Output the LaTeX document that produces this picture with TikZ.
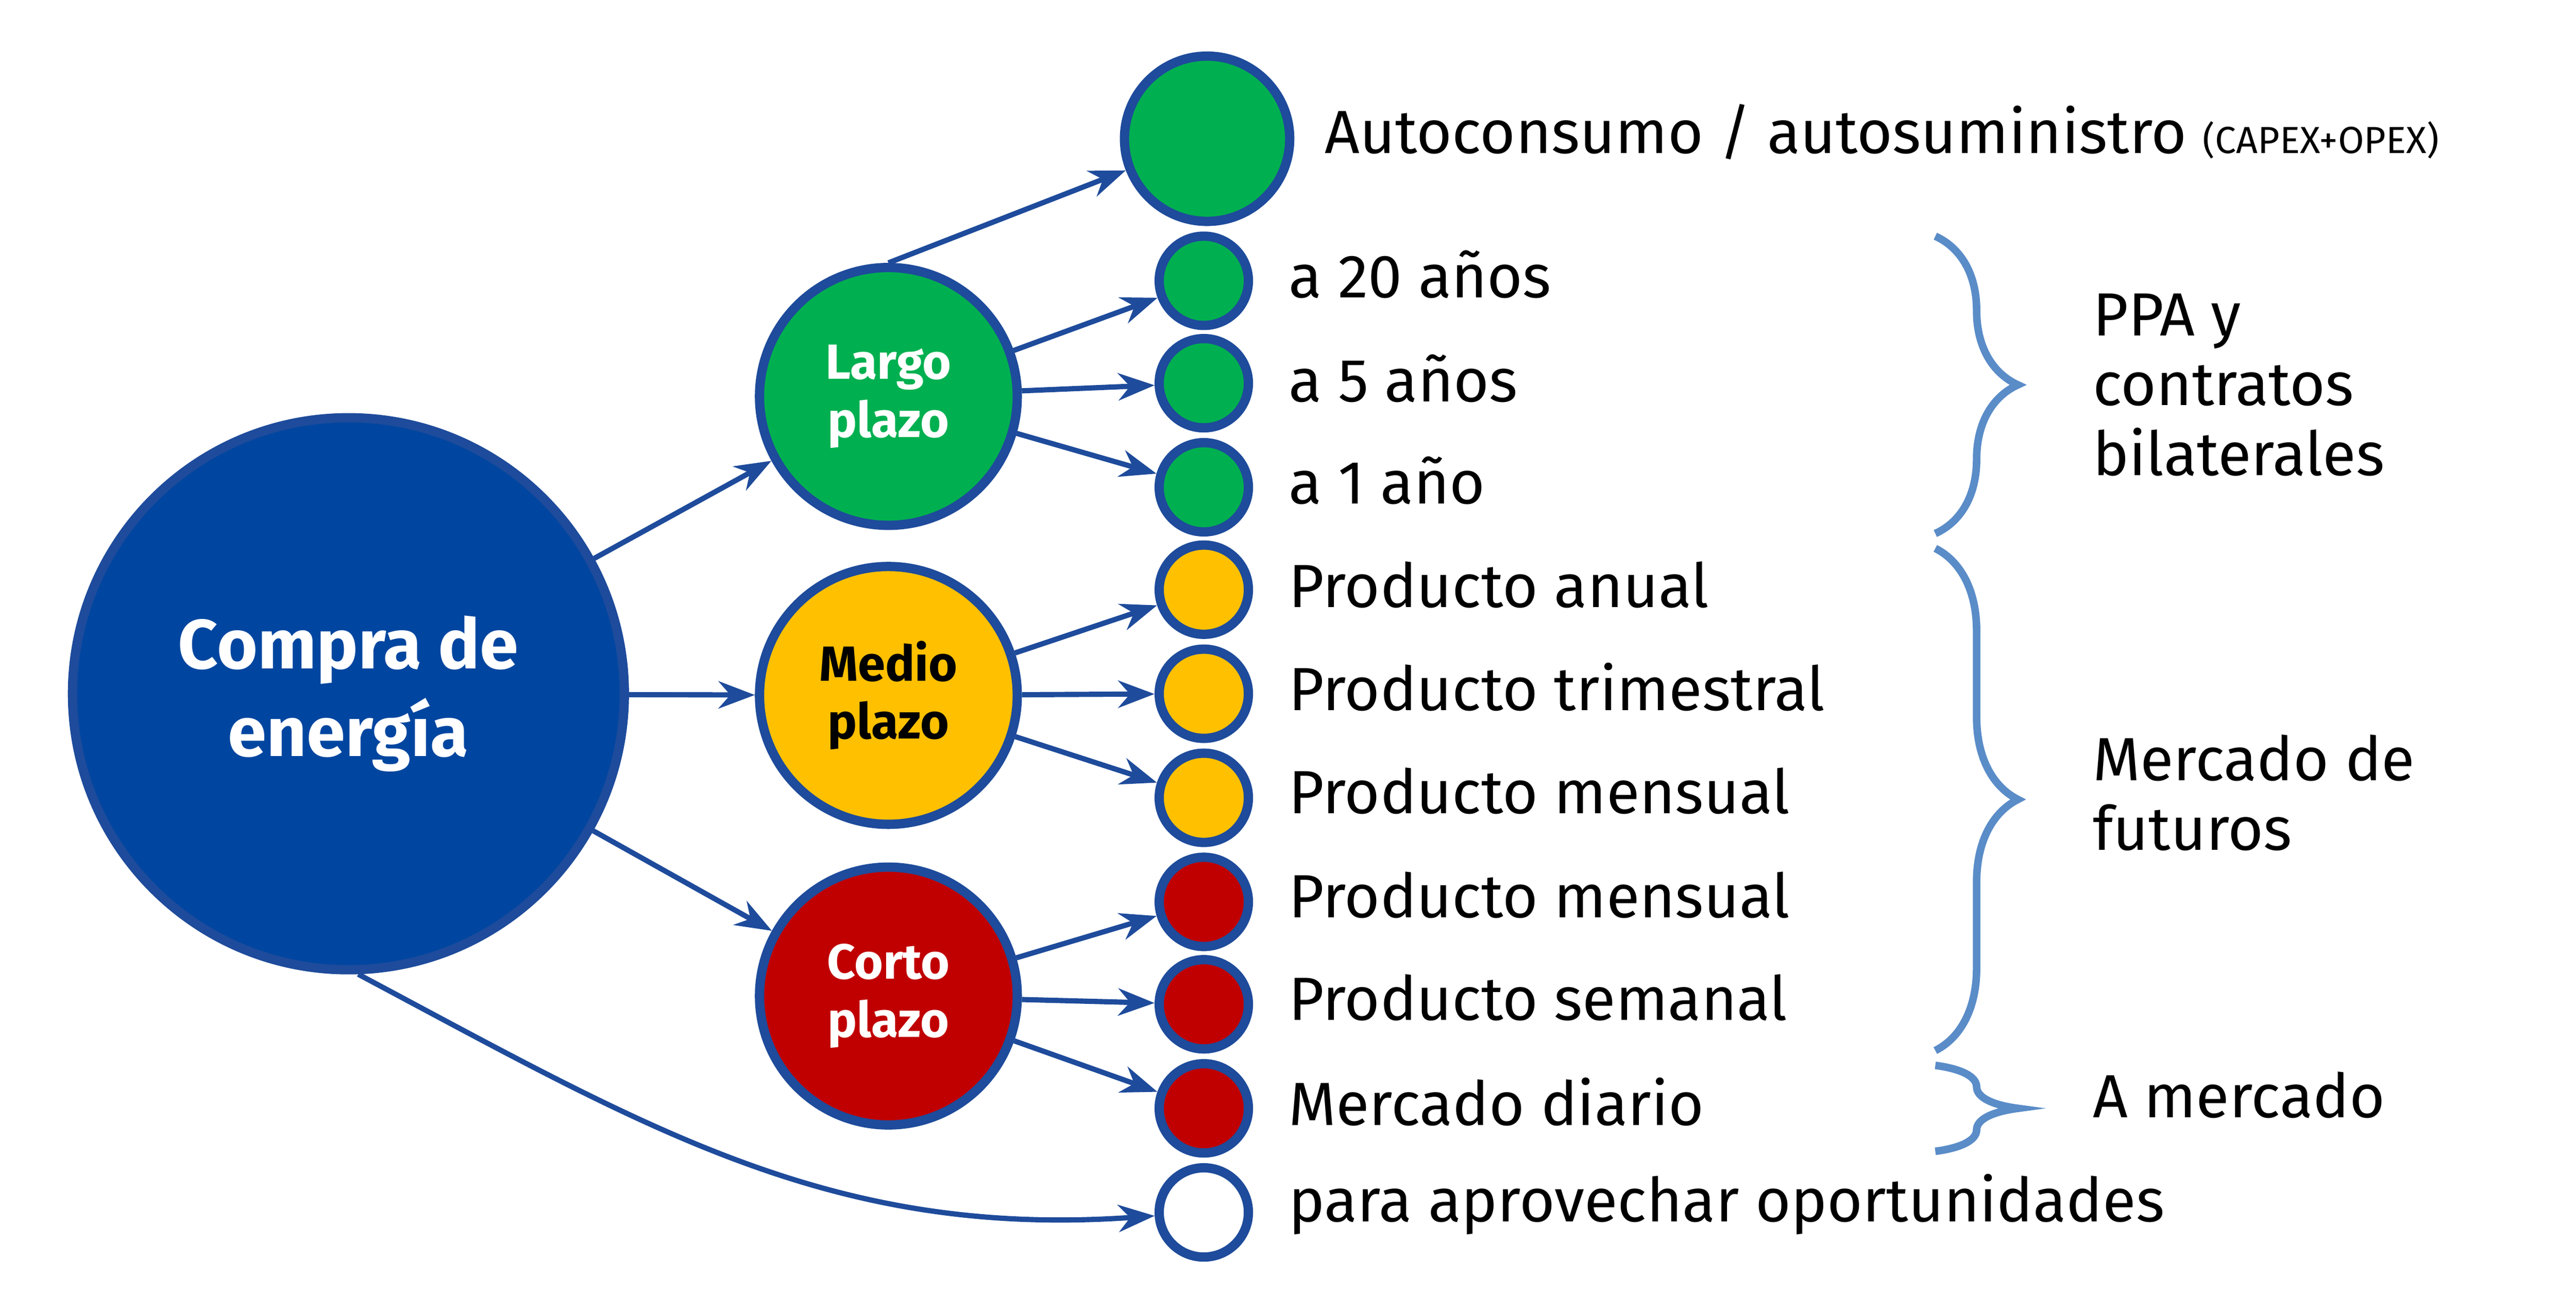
\documentclass[tikz,border=0pt]{standalone}
\usepackage{fontspec}
\setmainfont{Fira Sans}
\usetikzlibrary{decorations.pathreplacing,arrows.meta}
\definecolor{azul}{RGB}{0,70,160}
\definecolor{borde}{RGB}{30,75,155}
\definecolor{verde}{RGB}{0,176,80}
\definecolor{amarillo}{RGB}{255,192,0}
\definecolor{rojo}{RGB}{192,0,0}
\definecolor{llave}{RGB}{90,140,200}
\tikzset{every edge/.style={draw=borde, line width=0.9pt, -{Stealth[length=2.2mm]}}}
\tikzset{bola/.style={circle, draw=borde, line width=1.6pt, inner sep=0pt}}
\tikzset{grupo/.style={bola, minimum size=1.56cm, font=\bfseries\fontsize{8.5}{10}\selectfont, align=center}}
\tikzset{hoja/.style={bola, minimum size=0.54cm}}
\tikzset{texto/.style={anchor=west, font=\fontsize{10.5}{12}\selectfont}}
\tikzset{llaves/.style={draw=llave, line width=1.3pt, decorate, decoration={brace, amplitude=0.5cm}}}

\begin{document}
\begin{tikzpicture}[x=0.01cm, y=-0.01cm]       % compra de energia
    \path[use as bounding box] (0,0) rectangle (1560,782);

    \node[bola, fill=azul, minimum size=3.34cm, text=white, font=\bfseries\fontsize{12}{15}\selectfont, align=center] at (211,420) (compra) {Compra de\\energía};
    \node[grupo, fill=verde, text=white] at (538,240) (largo) {Largo\\plazo};
    \node[grupo, fill=amarillo] at (538,421) (medio) {Medio\\plazo};
    \node[grupo, fill=rojo, text=white] at (538,603) (corto) {Corto\\plazo};

    \node[bola, fill=verde, minimum size=1cm] at (731,84) (auto) {};
    \node[hoja, fill=verde] at (729,170) (a20) {};
    \node[hoja, fill=verde] at (729,232) (a5) {};
    \node[hoja, fill=verde] at (729,295) (a1) {};
    \node[hoja, fill=amarillo] at (729,357) (anual) {};
    \node[hoja, fill=amarillo] at (729,420) (trim) {};
    \node[hoja, fill=amarillo] at (729,483) (mensm) {};
    \node[hoja, fill=rojo] at (729,546) (mensc) {};
    \node[hoja, fill=rojo] at (729,608) (seman) {};
    \node[hoja, fill=rojo] at (729,671) (diario) {};
    \node[hoja, fill=white] at (729,734) (oport) {};

    \node[texto] at (790,80) (tauto) {Autoconsumo / autosuministro {\fontsize{6.5}{8}\selectfont (CAPEX+OPEX)}};
    \node[texto] at (768,166) (t20) {a 20 años};
    \node[texto] at (768,229) (t5) {a 5 años};
    \node[texto] at (768,291) (t1) {a 1 año};
    \node[texto] at (768,354) (tanual) {Producto anual};
    \node[texto] at (768,416) (ttrim) {Producto trimestral};
    \node[texto] at (768,479) (tmensm) {Producto mensual};
    \node[texto] at (768,542) (tmensc) {Producto mensual};
    \node[texto] at (768,604) (tseman) {Producto semanal};
    \node[texto] at (768,667) (tdiario) {Mercado diario};
    \node[texto] at (768,729) (toport) {para aprovechar oportunidades};

    \draw (compra) edge (largo);
    \draw (compra) edge (medio);
    \draw (compra) edge (corto);
    \draw (compra.-88) edge[out=-28, in=184] (oport);

    \draw (largo.90) edge (auto);
    \draw (largo) edge (a20);
    \draw (largo) edge (a5);
    \draw (largo) edge (a1);
    \draw (medio) edge (anual);
    \draw (medio) edge (trim);
    \draw (medio) edge (mensm);
    \draw (corto) edge (mensc);
    \draw (corto) edge (seman);
    \draw (corto) edge (diario);

    \coordinate (b1a) at (1172,143);
    \coordinate (b1b) at (1172,323);
    \coordinate (b2a) at (1172,332);
    \coordinate (b2b) at (1172,636);
    \coordinate (b3a) at (1172,645);
    \coordinate (b3b) at (1172,697);
    \draw[llaves] (b1a) -- (b1b);
    \draw[llaves] (b2a) -- (b2b);
    \draw[llaves] (b3a) -- (b3b);

    \node[texto, align=left] at (1255,233) (ppa) {PPA y\\contratos\\bilaterales};
    \node[texto, align=left] at (1255,480) (futuros) {Mercado de\\futuros};
    \node[texto] at (1255,663) (amercado) {A mercado};
\end{tikzpicture}
\end{document}
